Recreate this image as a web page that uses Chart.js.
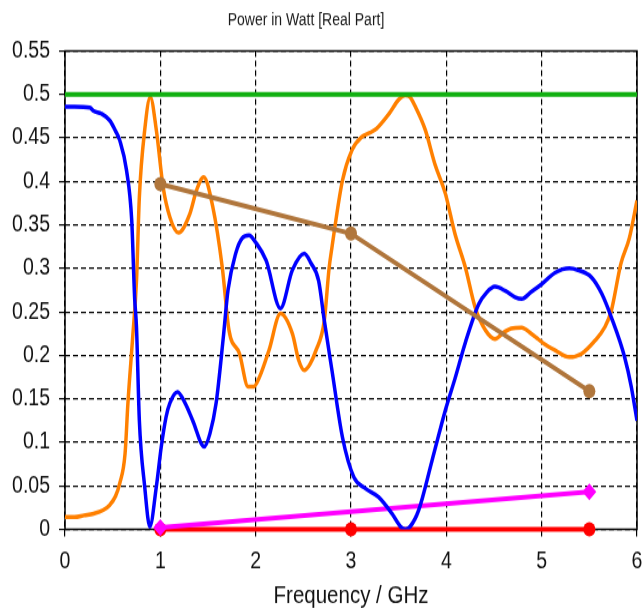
<!DOCTYPE html>
<html>
<head>
<meta charset="utf-8">
<title>Power in Watt [Real Part]</title>
<script src="https://cdn.jsdelivr.net/npm/chart.js@4.4.1/dist/chart.umd.min.js"></script>
<style>
  html { overflow: hidden; }
  body { margin: 0; padding: 0; background: #fff; height: 609px; }
  /* the original export is a bit taller than wide, so stretch vertically */
  #wrap { width: 644px; height: 508px; transform: scaleY(1.19882); transform-origin: 0 0; }
</style>
</head>
<body>
<div id="wrap"><canvas id="powerChart" width="644" height="508"></canvas></div>
<script>
const chartTitle = 'Power in Watt [Real Part]';
const xTitle = 'Frequency / GHz';

// blue curve
const blueFreq = [0, 0.1, 0.26, 0.3, 0.38, 0.47, 0.53, 0.575, 0.645, 0.70, 0.73, 0.75, 0.78, 0.836, 0.89,
  0.958, 1.01, 1.06, 1.1, 1.18, 1.26, 1.34, 1.46, 1.52, 1.585, 1.66, 1.71, 1.79, 1.86, 1.93, 2.0, 2.11,
  2.26, 2.385, 2.51, 2.58, 2.66, 2.72, 2.80, 2.91, 3.03, 3.15, 3.29, 3.43, 3.52, 3.57, 3.62, 3.71, 3.85,
  3.99, 4.09, 4.20, 4.34, 4.42, 4.51, 4.62, 4.72, 4.79, 4.89, 5.0, 5.14, 5.29, 5.38, 5.52, 5.63, 5.73,
  5.87, 5.94, 6.0];
const bluePower = [0.486, 0.486, 0.485, 0.481, 0.478, 0.470, 0.458, 0.447, 0.413, 0.355, 0.267, 0.232, 0.125, 0.049, 0.003,
  0.049, 0.095, 0.129, 0.145, 0.158, 0.145, 0.125, 0.095, 0.110, 0.145, 0.220, 0.275, 0.317, 0.335, 0.338, 0.330, 0.309,
  0.254, 0.298, 0.317, 0.306, 0.286, 0.240, 0.183, 0.106, 0.060, 0.047, 0.037, 0.018, 0.003, 0.0, 0.003, 0.022, 0.079,
  0.137, 0.173, 0.215, 0.259, 0.272, 0.279, 0.274, 0.267, 0.265, 0.273, 0.282, 0.295, 0.300, 0.298, 0.290, 0.271, 0.244,
  0.198, 0.164, 0.125];

// orange curve
const orangeFreq = [0, 0.1, 0.2, 0.3, 0.4, 0.47, 0.53, 0.575, 0.63, 0.66, 0.71, 0.75, 0.78, 0.836, 0.895,
  0.958, 1.03, 1.10, 1.19, 1.31, 1.38, 1.455, 1.55, 1.65, 1.72, 1.83, 1.92, 1.98, 2.04, 2.14, 2.26, 2.385,
  2.45, 2.51, 2.57, 2.63, 2.72, 2.77, 2.80, 2.91, 3.01, 3.11, 3.2, 3.27, 3.40, 3.5, 3.57, 3.62, 3.67, 3.78,
  3.88, 3.99, 4.09, 4.20, 4.30, 4.41, 4.51, 4.61, 4.68, 4.79, 4.89, 4.96, 5.03, 5.14, 5.29, 5.42, 5.56,
  5.66, 5.73, 5.83, 5.92, 6.0];
const orangePower = [0.014, 0.014, 0.016, 0.018, 0.022, 0.028, 0.038, 0.053, 0.087, 0.145, 0.221, 0.286, 0.382, 0.459, 0.497,
  0.459, 0.393, 0.359, 0.341, 0.363, 0.390, 0.405, 0.371, 0.301, 0.229, 0.202, 0.164, 0.164, 0.175, 0.206, 0.248, 0.225,
  0.195, 0.183, 0.190, 0.205, 0.240, 0.300, 0.324, 0.401, 0.436, 0.451, 0.456, 0.461, 0.478, 0.494, 0.499, 0.497, 0.487, 0.459,
  0.420, 0.386, 0.340, 0.301, 0.256, 0.229, 0.219, 0.227, 0.231, 0.232, 0.225, 0.219, 0.213, 0.206, 0.198, 0.202, 0.217,
  0.232, 0.251, 0.305, 0.335, 0.378];

// green level
const greenFreq = [0, 6];
const greenPower = [0.5, 0.5];

// brown markers
const brownFreq = [1, 3, 5.5];
const brownPower = [0.397, 0.340, 0.159];

// magenta markers
const magentaFreq = [1, 5.5];
const magentaPower = [0.002, 0.043];

// red markers
const redFreq = [1, 3, 5.5];
const redPower = [0, 0, 0];

const pts = (xs, ys) => xs.map((x, i) => ({ x: x, y: ys[i] }));

const frame = {
  id: 'frame',
  beforeDatasetsDraw(chart) {
    const { ctx, chartArea: a } = chart;
    ctx.save();
    ctx.strokeStyle = '#000';
    ctx.lineWidth = 1.5;
    ctx.strokeRect(a.left, a.top, a.right - a.left, a.bottom - a.top);
    ctx.restore();
  },
  afterDraw(chart) {
    const ctx = chart.ctx;
    ctx.save();
    ctx.fillStyle = '#1a1a1a';
    ctx.font = '14px "Liberation Sans", Arial, sans-serif';
    ctx.textAlign = 'center';
    ctx.textBaseline = 'middle';
    ctx.fillText(chartTitle, 306, 17.5);
    ctx.restore();
  }
};

const tickFont = { family: '"Liberation Sans", Arial, sans-serif', size: 19.5 };

const ctx = document.getElementById('powerChart').getContext('2d');
const powerChart = new Chart(ctx, {
  type: 'line',
  data: {
    datasets: [
      { data: pts(greenFreq, greenPower), borderColor: '#10b010', borderWidth: 4, pointRadius: 0 },
      { data: pts(brownFreq, brownPower), borderColor: '#b0763c', backgroundColor: '#b0763c', borderWidth: 4,
        pointRadius: 6, pointStyle: 'circle', pointBorderWidth: 0, clip: false },
      { data: pts(blueFreq, bluePower), borderColor: '#0000ff', borderWidth: 3.5, pointRadius: 0,
        cubicInterpolationMode: 'monotone' },
      { data: pts(magentaFreq, magentaPower), borderColor: '#ff00ff', backgroundColor: '#ff00ff', borderWidth: 4,
        pointRadius: 7, pointStyle: 'rectRot', pointBorderWidth: 0, clip: false },
      { data: pts(redFreq, redPower), borderColor: '#ff0000', backgroundColor: '#ff0000', borderWidth: 4,
        pointRadius: 6, pointStyle: 'circle', pointBorderWidth: 0, clip: false },
      { data: pts(orangeFreq, orangePower), borderColor: '#ff8000', borderWidth: 3.5, pointRadius: 0,
        cubicInterpolationMode: 'monotone' }
    ]
  },
  options: {
    responsive: false,
    animation: false,
    events: [],
    layout: { padding: { top: 42.5, right: 4.5, left: 0, bottom: 0 } },
    plugins: { legend: { display: false }, tooltip: { enabled: false } },
    scales: {
      x: {
        type: 'linear',
        min: 0,
        max: 6,
        ticks: { stepSize: 1, color: '#111', font: tickFont, padding: 9, maxRotation: 0 },
        grid: { color: '#000', lineWidth: 1.2, tickLength: 6, tickColor: '#000',
          tickBorderDash: [], tickWidth: 1.2 },
        border: { display: false, dash: [5, 3] },
        title: { display: true, text: xTitle, color: '#111',
          font: { family: '"Liberation Sans", Arial, sans-serif', size: 20.5, lineHeight: 1 },
          padding: { top: 0, bottom: 0 } },
        afterFit(scale) { scale.height = 66.5; scale.paddingLeft = 0; scale.paddingRight = 0; }
      },
      y: {
        min: 0,
        max: 0.55,
        ticks: { stepSize: 0.05, color: '#111', font: tickFont, padding: 9,
          callback: (v) => String(parseFloat(v.toFixed(2))) },
        grid: { color: '#000', lineWidth: 1.2, tickLength: 6, tickColor: '#000',
          tickBorderDash: [], tickWidth: 1.2 },
        border: { display: false, dash: [5, 3] },
        afterFit(scale) { scale.width = 65; scale.paddingTop = 0; scale.paddingBottom = 0; }
      }
    }
  },
  plugins: [frame]
});
</script>
</body>
</html>
